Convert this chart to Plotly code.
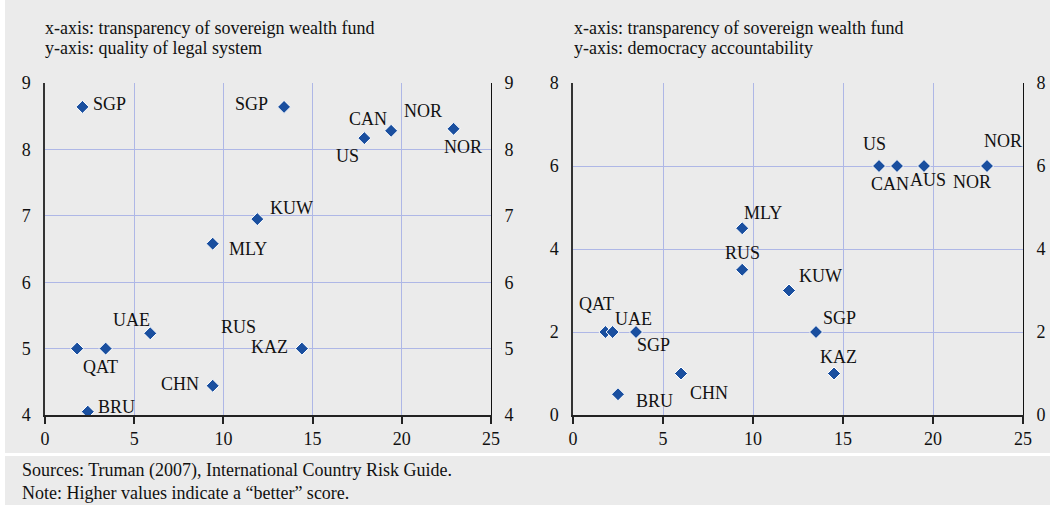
import plotly.graph_objects as go

# ---------------- data ----------------
left_labels = ["SGP", "SGP", "CAN", "US", "NOR", "NOR", "KUW", "MLY", "UAE", "QAT", "", "RUS", "KAZ", "CHN", "BRU"]
left_x = [2.1, 13.4, 19.4, 17.9, 22.9, 22.9, 11.9, 9.4, 5.9, 1.8, 3.4, 14.4, 14.4, 9.4, 2.4]
left_y = [8.64, 8.64, 8.28, 8.17, 8.31, 8.31, 6.95, 6.58, 5.23, 5.0, 5.0, 5.0, 5.0, 4.44, 4.05]

right_labels = ["US", "CAN", "AUS", "NOR", "NOR", "MLY", "RUS", "KUW", "QAT", "UAE", "SGP", "SGP", "KAZ", "CHN", "BRU"]
right_x = [17, 18, 19.5, 23, 23, 9.4, 9.4, 12, 1.8, 2.2, 3.5, 13.5, 14.5, 6, 2.5]
right_y = [6, 6, 6, 6, 6, 4.5, 3.5, 3, 2, 2, 2, 2, 1, 1, 0.5]

x_ticks = [0, 5, 10, 15, 20, 25]
left_y_ticks = [4, 5, 6, 7, 8, 9]
right_y_ticks = [0, 2, 4, 6, 8]

left_title = ["x-axis: transparency of sovereign wealth fund", "y-axis: quality of legal system"]
right_title = ["x-axis: transparency of sovereign wealth fund", "y-axis: democracy accountability"]
notes = ["Sources: Truman (2007), International Country Risk Guide.",
         "Note: Higher values indicate a \u201cbetter\u201d score."]

# label offsets in pixels (dx right, dy down) -- styling only
left_off = [(27, -3), (-33, -3), (-23, -12), (-17, 18), (-31, -18), (9, 18), (34, -11), (35, 5),
            (-19, -13), (23, 18), (0, 0), (-63, -22), (-32, -2), (-33, -2), (29, -5)]
right_off = [(-5, -22), (-7, 18), (4, 14), (-15, 16), (16, -25), (21, -15), (0, -17), (31, -15),
             (-9, -28), (21, -13), (17, 13), (23, -14), (4, -17), (28, 19), (36, 7)]

# ---------------- style ----------------
W, H = 1052, 506
FONT = "Liberation Serif"
MARKER = "#1a4f9f"
GRID = "#aeb7e6"
BG = "#ebebeb"


def px_x(p):
    return p / W


def px_y(p):
    return 1 - p / H


fig = go.Figure()

marker = dict(symbol="diamond", size=10, color=MARKER, line=dict(color="white", width=1))

fig.add_trace(go.Scatter(x=left_x, y=left_y, mode="markers", marker=marker,
                         xaxis="x", yaxis="y", showlegend=False, hoverinfo="skip"))
fig.add_trace(go.Scatter(x=left_x, y=left_y, mode="markers", marker=dict(opacity=0),
                         xaxis="x", yaxis="y3", showlegend=False, hoverinfo="skip"))
fig.add_trace(go.Scatter(x=right_x, y=right_y, mode="markers", marker=marker,
                         xaxis="x2", yaxis="y2", showlegend=False, hoverinfo="skip"))
fig.add_trace(go.Scatter(x=right_x, y=right_y, mode="markers", marker=dict(opacity=0),
                         xaxis="x2", yaxis="y4", showlegend=False, hoverinfo="skip"))

lab_font = dict(family=FONT, size=18, color="#111")
annotations = []
for lab, x, y, (dx, dy) in zip(left_labels, left_x, left_y, left_off):
    if lab:
        annotations.append(dict(x=x, y=y, xref="x", yref="y", text=lab, showarrow=False,
                                xshift=dx, yshift=-dy, font=lab_font))
for lab, x, y, (dx, dy) in zip(right_labels, right_x, right_y, right_off):
    if lab:
        annotations.append(dict(x=x, y=y, xref="x2", yref="y2", text=lab, showarrow=False,
                                xshift=dx, yshift=-dy, font=lab_font))

for i, t in enumerate(left_title):
    annotations.append(dict(x=px_x(43), y=px_y(28 + 20 * i), xref="paper", yref="paper", text=t,
                            showarrow=False, xanchor="left", yanchor="middle", font=lab_font))
for i, t in enumerate(right_title):
    annotations.append(dict(x=px_x(572), y=px_y(28 + 20 * i), xref="paper", yref="paper", text=t,
                            showarrow=False, xanchor="left", yanchor="middle", font=lab_font))
annotations.append(dict(x=px_x(20), y=px_y(481), xref="paper", yref="paper", text="<br>".join(notes),
                        showarrow=False, xanchor="left", yanchor="middle", align="left",
                        font=lab_font))

shapes = [
    dict(type="rect", xref="paper", yref="paper", x0=px_x(5), x1=px_x(1050), y0=px_y(453), y1=1,
         fillcolor=BG, line=dict(width=0), layer="below"),
    dict(type="rect", xref="paper", yref="paper", x0=px_x(5), x1=px_x(1050), y0=px_y(505), y1=px_y(456),
         fillcolor=BG, line=dict(width=0), layer="below"),
]

tickfont = dict(family=FONT, size=18, color="#111")

xcommon = dict(range=[0, 25], tickvals=x_ticks, showgrid=True, gridcolor=GRID, gridwidth=1,
               showline=True, linecolor="#222", linewidth=1.5, ticks="outside", ticklen=7,
               tickcolor="#222", tickwidth=1.5, tickfont=tickfont, zeroline=False,
               fixedrange=True, automargin=False)
ycommon = dict(showgrid=True, gridcolor=GRID, gridwidth=1, showline=True, linecolor="#333",
               linewidth=1.5, ticks="", tickfont=tickfont, zeroline=False, ticklabelstandoff=9,
               fixedrange=True, automargin=False)
yright = dict(showgrid=False, showline=True, linecolor="#111", linewidth=1, ticks="",
              tickfont=tickfont, zeroline=False, ticklabelstandoff=9, fixedrange=True,
              automargin=False)

dom_left = [px_x(45), px_x(491)]
dom_right = [px_x(573), px_x(1023)]
dom_y = [px_y(415), px_y(83)]

fig.update_layout(
    template="none",
    width=W, height=H,
    margin=dict(l=0, r=0, t=0, b=0, pad=0),
    paper_bgcolor="white",
    plot_bgcolor="rgba(0,0,0,0)",
    showlegend=False,
    font=dict(family=FONT, size=18, color="#111"),
    xaxis=dict(domain=dom_left, anchor="y", **xcommon),
    yaxis=dict(domain=dom_y, anchor="x", range=[4, 9], tickvals=left_y_ticks, **ycommon),
    yaxis3=dict(overlaying="y", anchor="x", side="right", range=[4, 9], tickvals=left_y_ticks, **yright),
    xaxis2=dict(domain=dom_right, anchor="y2", **xcommon),
    yaxis2=dict(domain=dom_y, anchor="x2", range=[0, 8], tickvals=right_y_ticks, **ycommon),
    yaxis4=dict(overlaying="y2", anchor="x2", side="right", range=[0, 8], tickvals=right_y_ticks, **yright),
    annotations=annotations,
    shapes=shapes,
)

fig.write_html(
    "out.html",
    config={"displayModeBar": False},
    post_script="document.body.style.margin='0';document.body.style.overflow='hidden';",
)
